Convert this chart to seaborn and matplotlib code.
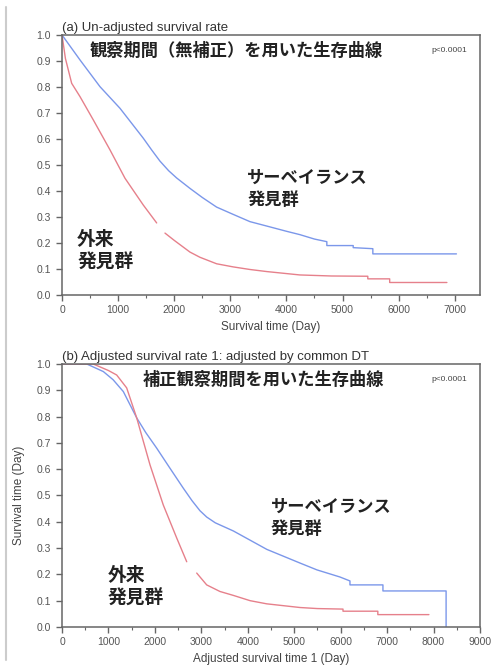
# -*- coding: UTF-8 -*-
import matplotlib
matplotlib.use("Agg")
from matplotlib import pyplot as plt
from matplotlib.lines import Line2D
from matplotlib.ticker import MultipleLocator, FormatStrFormatter
import pandas as pd
import seaborn as sns

# (a) un-adjusted survival
a_surv_time = [0, 320, 677, 1033, 1448, 1600, 1745, 1900, 2043, 2280, 2500, 2755, 3050, 3350, 3650, 4000,
               4240, 4500, 4720, 4720, 5190, 5190, 5540, 5540, 7030]
a_surv_rate = [1.0, 0.904, 0.801, 0.718, 0.603, 0.557, 0.515, 0.478, 0.45, 0.41, 0.375, 0.338, 0.31, 0.282,
               0.265, 0.245, 0.232, 0.215, 0.205, 0.19, 0.19, 0.182, 0.178, 0.158, 0.158]
a_out_time_1 = [0, 60, 172, 320, 558, 855, 1122, 1448, 1687]
a_out_rate_1 = [1.0, 0.91, 0.814, 0.763, 0.673, 0.558, 0.449, 0.346, 0.277]
a_out_time_2 = [1835, 2000, 2280, 2458, 2755, 3050, 3350, 3650, 4240, 4800, 5450, 5450, 5840, 5840, 6860]
a_out_rate_2 = [0.238, 0.21, 0.165, 0.145, 0.12, 0.108, 0.098, 0.09, 0.077, 0.073, 0.072, 0.062, 0.062, 0.048, 0.048]

# (b) adjusted survival
b_surv_time = [0, 531, 890, 1100, 1320, 1608, 1800, 2038, 2300, 2610, 2800, 2970, 3115, 3300, 3690, 4410,
               5125, 5490, 5985, 6200, 6200, 6910, 6910, 8270, 8270]
b_surv_rate = [1.0, 1.0, 0.971, 0.94, 0.895, 0.795, 0.74, 0.68, 0.61, 0.528, 0.48, 0.442, 0.418, 0.396,
               0.365, 0.295, 0.243, 0.217, 0.19, 0.175, 0.16, 0.16, 0.137, 0.137, 0.0]
b_out_time_1 = [0, 670, 1000, 1177, 1392, 1608, 1895, 2180, 2470, 2685]
b_out_rate_1 = [1.0, 1.0, 0.975, 0.958, 0.909, 0.795, 0.616, 0.464, 0.338, 0.248]
b_out_time_2 = [2900, 3115, 3400, 3690, 4050, 4408, 5125, 5500, 6050, 6050, 6800, 6800, 7900]
b_out_rate_2 = [0.205, 0.16, 0.135, 0.12, 0.1, 0.088, 0.074, 0.07, 0.068, 0.06, 0.06, 0.047, 0.047]

blue = "#7b97ea"
red = "#e6808b"
frame = "#666666"
tick_col = "#555555"

sns.set_style("ticks")
plt.rcParams["font.family"] = ["Liberation Sans", "Noto Sans CJK JP", "DejaVu Sans"]
jp = ["Noto Sans CJK JP", "DejaVu Sans"]

fig = plt.figure(figsize=(4.95, 6.71), dpi=100)
ax_a = fig.add_axes([0.1253, 0.5604, 0.8444, 0.3875])
ax_b = fig.add_axes([0.1253, 0.0656, 0.8444, 0.3920])


def curve(ax, t, s, color):
    df = pd.DataFrame({"t": t, "s": s})
    sns.lineplot(data=df, x="t", y="s", ax=ax, color=color, linewidth=1.0,
                 estimator=None, sort=False, legend=False)


curve(ax_a, a_surv_time, a_surv_rate, blue)
curve(ax_a, a_out_time_1, a_out_rate_1, red)
curve(ax_a, a_out_time_2, a_out_rate_2, red)

curve(ax_b, b_surv_time, b_surv_rate, blue)
curve(ax_b, b_out_time_1, b_out_rate_1, red)
curve(ax_b, b_out_time_2, b_out_rate_2, red)

for ax, xmax in ((ax_a, 7450), (ax_b, 9000)):
    ax.set_xlim(0, xmax)
    ax.set_ylim(0, 1.0)
    ax.xaxis.set_major_locator(MultipleLocator(1000))
    ax.xaxis.set_minor_locator(MultipleLocator(500))
    ax.yaxis.set_major_locator(MultipleLocator(0.1))
    ax.yaxis.set_major_formatter(FormatStrFormatter("%.1f"))
    for sp in ax.spines.values():
        sp.set_visible(True)
        sp.set_color(frame)
        sp.set_linewidth(1.1)
    ax.tick_params(which="major", length=4, width=1.0, color=frame,
                   labelsize=7.5, labelcolor=tick_col, pad=4)
    ax.tick_params(which="minor", length=2.5, width=0.8, color=frame)
    ax.tick_params(axis="x", which="major", pad=3.5)
    ax.set_ylabel("")

ax_a.set_xlabel("Survival time (Day)", fontsize=8.5, color="#444444", labelpad=4)
ax_b.set_xlabel("Adjusted survival time 1 (Day)", fontsize=8.5, color="#444444", labelpad=4)
ax_b.set_ylabel("Survival time (Day)", fontsize=8.5, color="#444444", labelpad=8)

ax_a.set_title("(a) Un-adjusted survival rate", loc="left", fontsize=9.5,
               color="#333333", pad=3)
ax_b.set_title("(b) Adjusted survival rate 1: adjusted by common DT", loc="left",
               fontsize=9.5, color="#333333", pad=3)

ax_a.text(0.066, 0.94, "観察期間（無補正）を用いた生存曲線", transform=ax_a.transAxes,
          family=jp, fontsize=12.4, weight="bold", color="#222222", va="center")
ax_b.text(0.192, 0.94, "補正観察期間を用いた生存曲線", transform=ax_b.transAxes,
          family=jp, fontsize=12.4, weight="bold", color="#222222", va="center")
for ax in (ax_a, ax_b):
    ax.text(0.97, 0.94, "p<0.0001", transform=ax.transAxes, fontsize=6,
            color="#444444", ha="right", va="center")

ax_a.text(3300, 0.485, "サーベイランス\n発見群", family=jp, fontsize=12.4, weight="bold",
          color="#222222", va="top", linespacing=1.3)
ax_a.text(270, 0.25, "外来\n発見群", family=jp, fontsize=13.5, weight="bold",
          color="#222222", va="top", linespacing=1.25)
ax_b.text(4500, 0.49, "サーベイランス\n発見群", family=jp, fontsize=12.4, weight="bold",
          color="#222222", va="top", linespacing=1.3)
ax_b.text(990, 0.23, "外来\n発見群", family=jp, fontsize=13.5, weight="bold",
          color="#222222", va="top", linespacing=1.25)

# light grey border line on the left edge
fig.add_artist(Line2D([6 / 495, 6 / 495], [1 - 7 / 671, 1 - 660 / 671],
                      transform=fig.transFigure, color="#cccccc", linewidth=1.5))

fig.savefig("out.png", dpi=100)
plt.close(fig)
